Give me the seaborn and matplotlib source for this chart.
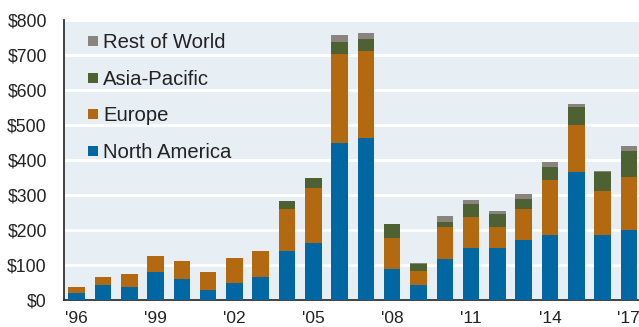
import matplotlib
matplotlib.use("Agg")
import matplotlib.pyplot as plt
from matplotlib.lines import Line2D
import seaborn as sns
import numpy as np
import pandas as pd

years = ["'96", "'97", "'98", "'99", "'00", "'01", "'02", "'03", "'04", "'05", "'06",
         "'07", "'08", "'09", "'10", "'11", "'12", "'13", "'14", "'15", "'16", "'17"]
north_america = [21, 43, 36, 81, 59, 29, 50, 67, 140, 163, 448, 464, 88, 44, 118, 149, 149, 171, 186, 366, 186, 201]
europe = [15, 24, 37, 45, 52, 52, 69, 74, 120, 158, 254, 246, 90, 38, 90, 88, 59, 89, 157, 134, 126, 150]
asia_pacific = [0, 0, 0, 0, 0, 0, 0, 0, 23, 29, 35, 36, 38, 22, 15, 36, 38, 29, 38, 52, 55, 76]
rest_of_world = [0, 0, 0, 0, 0, 0, 0, 0, 0, 0, 21, 18, 2, 1, 17, 13, 9, 13, 14, 7, 3, 13]
y_ticks = [0, 100, 200, 300, 400, 500, 600, 700, 800]
y_labels = ["$0", "$100", "$200", "$300", "$400", "$500", "$600", "$700", "$800"]
x_label_years = ["'96", "'99", "'02", "'05", "'08", "'11", "'14", "'17"]

series_names = ["North America", "Europe", "Asia-Pacific", "Rest of World"]
colors = {"North America": "#0067A3", "Europe": "#B3690F",
          "Asia-Pacific": "#4E6132", "Rest of World": "#8A847F"}

df = pd.DataFrame({"year": years, "North America": north_america, "Europe": europe,
                   "Asia-Pacific": asia_pacific, "Rest of World": rest_of_world})
cum = df[series_names].cumsum(axis=1)

sns.set_style("white")
plt.rcParams["font.family"] = ["Liberation Sans", "DejaVu Sans"]

fig = plt.figure(figsize=(6.39, 3.27), dpi=100)
ax = fig.add_axes([63.5 / 639, 27 / 327, (642 - 63.5) / 639, 280 / 327])
ax.set_facecolor("#E8EFF4")

for name in reversed(series_names):
    sns.barplot(x=df["year"], y=cum[name], order=years, color=colors[name],
                width=0.63, linewidth=0, saturation=1, ax=ax, zorder=3)

ax.set_xlim(-0.5, 21.5)
ax.set_ylim(0, 800)
ax.set_yticks(y_ticks)
ax.set_yticklabels(y_labels)
ax.yaxis.grid(True, color="white", linewidth=2)
ax.set_axisbelow(True)

major = [i - 0.5 for i in range(0, 22, 3)]
ax.set_xticks(major)
ax.set_xticklabels([""] * len(major))
ax.set_xticks([years.index(y) for y in x_label_years], minor=True)
ax.set_xticklabels(x_label_years, minor=True)
ax.tick_params(axis="x", which="major", length=4, width=1.2, color="#333333", direction="out")
ax.tick_params(axis="x", which="minor", length=0, pad=8, labelsize=12.5, labelcolor="#222222")
ax.tick_params(axis="y", length=5, width=1.2, color="#333333", direction="out",
               pad=7, labelsize=12.7, labelcolor="#222222")
ax.set_xlabel("")
ax.set_ylabel("")

for s in ["top", "right"]:
    ax.spines[s].set_visible(False)
for s in ["left", "bottom"]:
    ax.spines[s].set_color("#333333")
    ax.spines[s].set_linewidth(1.3)

handles = [Line2D([0], [0], marker="s", linestyle="", markersize=7.5,
                  markerfacecolor=colors[n], markeredgewidth=0) for n in reversed(series_names)]
leg = ax.legend(handles, list(reversed(series_names)), loc="upper left",
                bbox_to_anchor=(0.0166, 1.0), frameon=False, fontsize=14.6,
                handlelength=0.7, handletextpad=0.12, labelspacing=0.87,
                borderaxespad=0.25)
for t in leg.get_texts():
    t.set_color("#222222")

fig.savefig("out.png", dpi=100)
